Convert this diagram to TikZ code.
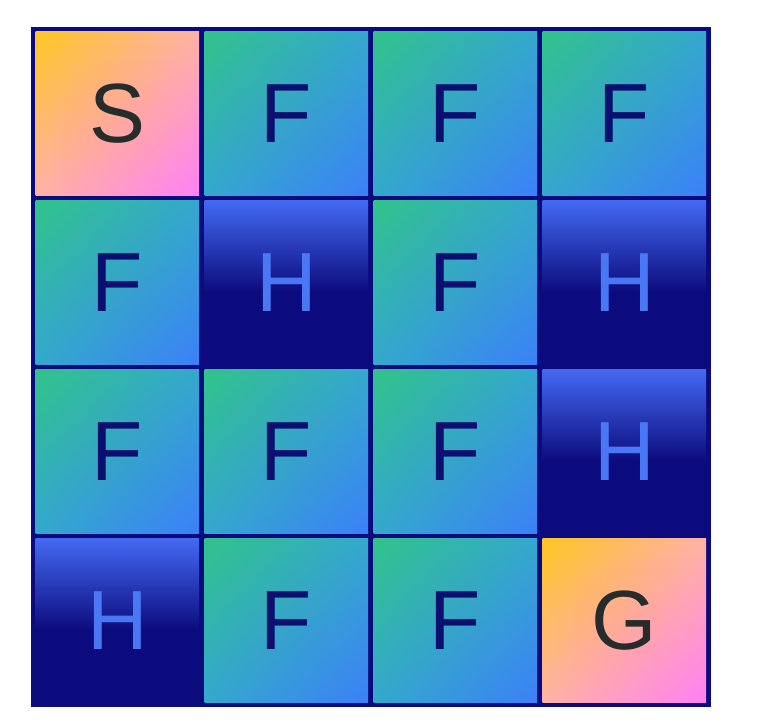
\documentclass[tikz,border=0pt]{standalone}
\usepackage{fontspec}
\setmainfont{Liberation Sans}
\usepackage{xcolor}
\definecolor{frame}{HTML}{0C0B7D}
\definecolor{holetop}{HTML}{4369F2}
\definecolor{holeink}{HTML}{4A78F5}
\definecolor{iceink}{HTML}{0A0F70}
\definecolor{endink}{HTML}{262B2B}
\definecolor{icetl}{HTML}{31C38A}
\definecolor{icemid}{HTML}{34A8CE}
\definecolor{icebr}{HTML}{3C80F8}
\definecolor{endtl}{HTML}{FFC622}
\definecolor{endmid}{HTML}{FFB2A6}
\definecolor{endbr}{HTML}{FF80F5}
\usepackage{tikz}
\usetikzlibrary{shadings}
% hole: dark at the bottom, blue at the top
\pgfdeclareverticalshading{holeshade}{100bp}{color(0bp)=(frame); color(47bp)=(frame); color(75bp)=(holetop); color(100bp)=(holetop)}
\tikzset{
  cell/.style={rectangle,inner sep=0pt,minimum size=81.75pt,font=\fontsize{42}{50}\selectfont},
  cellF/.style={upper left=icetl,upper right=icemid,lower left=icemid,lower right=icebr,text=iceink},
  cellH/.style={shading=holeshade,text=holeink},
  cellS/.style={upper left=endtl,upper right=endmid,lower left=endmid,lower right=endbr,text=endink},
  cellG/.style={cellS}
}

\begin{document}
\begin{tikzpicture}[x=0.5pt,y=-0.5pt]
  \useasboundingbox (0,0) rectangle (759,724);
  % frame
  \fill[frame] (31,27) rectangle (711,707);
  % cells : row, column, letter
  \foreach \r/\c/\t in {0/0/S,0/1/F,0/2/F,0/3/F,
                        1/0/F,1/1/H,1/2/F,1/3/H,
                        2/0/F,2/1/F,2/2/F,2/3/H,
                        3/0/H,3/1/F,3/2/F,3/3/G}
     \node[cell,cell\t] (c\r\c) at (117.45+169*\c,113.45+169*\r) {\t};
\end{tikzpicture}
\end{document}
